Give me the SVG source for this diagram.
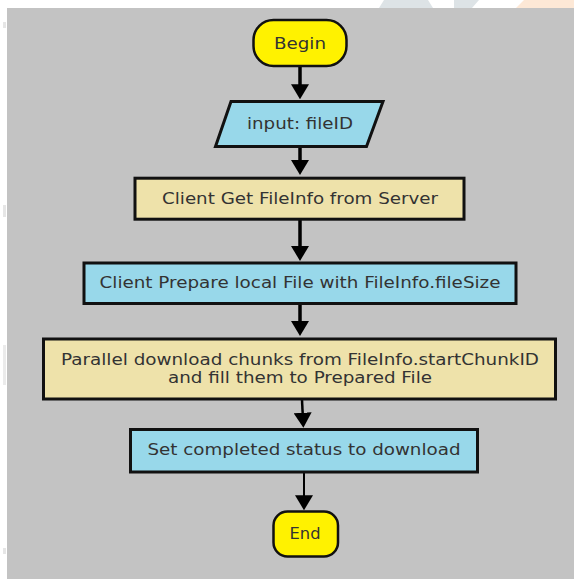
<svg xmlns="http://www.w3.org/2000/svg" width="574" height="579" viewBox="0 0 574 579">
<style>
.t{font-family:"DejaVu Sans","Liberation Sans",sans-serif;font-size:16px;fill:#333;text-anchor:middle}
.term{fill:#fff200;stroke:#111;stroke-width:2.5}
.blue{fill:#98d8ea;stroke:#111;stroke-width:3}
.tan{fill:#eee2aa;stroke:#111;stroke-width:3}
.c{stroke:#000;fill:none}
</style>
<defs>
<marker id="ah" viewBox="0 0 15 18" refX="7" refY="9" markerWidth="15" markerHeight="18" markerUnits="userSpaceOnUse" orient="auto">
<path d="M0,0 L15,9 L0,18 z" fill="#000"/>
</marker>
</defs>
<rect width="574" height="579" fill="#fff"/>
<path d="M384,0 L428,0 L433,8 L379,8 z" fill="#dde3e6"/>
<path d="M454,0 L479,0 L472,8 L454,8 z" fill="#dde3e6"/>
<path d="M524,0 L574,0 L574,8 L516,8 z" fill="#fde8d6"/>
<rect x="3" y="22" width="3" height="6" fill="#e6e6e6"/>
<rect x="3" y="205" width="3" height="12" fill="#e6e6e6"/>
<rect x="3" y="345" width="3" height="40" fill="#ebebeb"/>
<rect x="3" y="548" width="3" height="6" fill="#e6e6e6"/>
<rect x="7" y="8" width="567" height="571" fill="#c3c3c3"/>
<g id="connectors">
<path class="c" d="M300,66 V91.3" stroke-width="3.5" marker-end="url(#ah)"/>
<path class="c" d="M300,147 V167" stroke-width="3.5" marker-end="url(#ah)"/>
<path class="c" d="M300,220 V253" stroke-width="3.5" marker-end="url(#ah)"/>
<path class="c" d="M300,304 V328" stroke-width="3.5" marker-end="url(#ah)"/>
<path class="c" d="M302,400 L303,419.7" stroke-width="2.5" marker-end="url(#ah)"/>
<path class="c" d="M304,473 V502.3" stroke-width="2" marker-end="url(#ah)"/>
</g>
<g id="begin">
<rect class="term" x="253.5" y="20" width="93" height="46" rx="20"/>
<text class="t" x="300" y="48.5" textLength="52" lengthAdjust="spacingAndGlyphs">Begin</text>
</g>
<g id="input">
<path class="blue" stroke-width="2.5" d="M231,101.5 L383,101.5 L366.5,146.5 L215.5,146.5 z"/>
<text class="t" x="300" y="129" textLength="106" lengthAdjust="spacingAndGlyphs">input: fileID</text>
</g>
<g id="getinfo">
<rect class="tan" x="135" y="178.2" width="329" height="41"/>
<text class="t" x="300" y="204" textLength="276" lengthAdjust="spacingAndGlyphs">Client Get FileInfo from Server</text>
</g>
<g id="prepare">
<rect class="blue" x="84" y="263" width="432" height="40.5"/>
<text class="t" x="300" y="287.5" textLength="401" lengthAdjust="spacingAndGlyphs">Client Prepare local File with FileInfo.fileSize</text>
</g>
<g id="parallel">
<rect class="tan" x="43.5" y="339" width="512" height="60"/>
<text class="t" x="300" y="364.5" textLength="478" lengthAdjust="spacingAndGlyphs">Parallel download chunks from FileInfo.startChunkID</text>
<text class="t" x="300" y="382.5" textLength="264" lengthAdjust="spacingAndGlyphs">and fill them to Prepared File</text>
</g>
<g id="setstatus">
<rect class="blue" x="130.5" y="429.5" width="347" height="42.5"/>
<text class="t" x="304" y="455" textLength="313" lengthAdjust="spacingAndGlyphs">Set completed status to download</text>
</g>
<g id="end">
<rect class="term" stroke-width="2" x="273.5" y="511.5" width="64.5" height="45" rx="14"/>
<text class="t" x="305" y="539.3" textLength="31" lengthAdjust="spacingAndGlyphs">End</text>
</g>
</svg>
